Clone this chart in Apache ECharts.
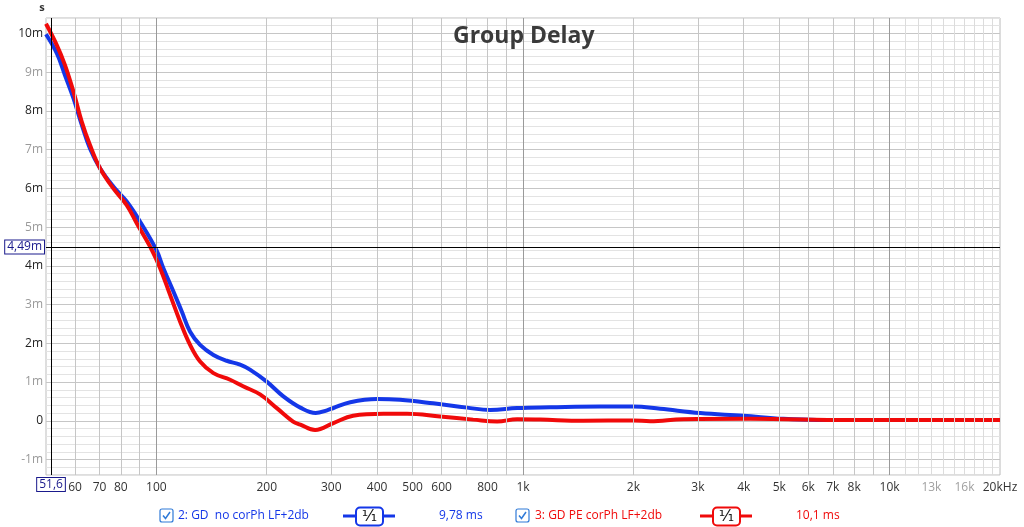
<!DOCTYPE html>
<html>
<head>
<meta charset="utf-8">
<title>Group Delay</title>
<script src="https://cdn.jsdelivr.net/npm/echarts@6/dist/echarts.min.js"></script>
<style>
html, body {margin: 0; padding: 0; background: #fff;}
#view {width: 1024px; height: 527px;}
</style>
</head>
<body>
<div id="view"></div>
<script>
// group delay, ms
var freqNoCor = [50, 53.5, 56.3, 59.4, 62.6, 65.9, 70.2, 76.3, 83, 90.3, 100, 104.5, 111.3, 117.3, 123.6, 131.6, 143.1, 155.6, 169.2, 180, 200, 222, 247, 272, 292, 304, 338, 400, 462, 569, 704, 814, 964, 1186, 1624, 2000, 2367, 3045, 3989, 5127, 6349, 10000, 20000];
var gdNoCor = [9.98, 9.49, 8.93, 8.33, 7.64, 7.03, 6.52, 6.05, 5.66, 5.14, 4.41, 3.94, 3.34, 2.82, 2.30, 1.96, 1.70, 1.55, 1.45, 1.32, 1.01, 0.63, 0.34, 0.20, 0.27, 0.33, 0.48, 0.56, 0.54, 0.45, 0.34, 0.28, 0.33, 0.35, 0.37, 0.37, 0.31, 0.20, 0.13, 0.05, 0.02, 0.02, 0.02];

var freqPeCor = [50, 53.5, 56.3, 59.4, 62.6, 65.9, 70.2, 76.3, 83, 88.4, 97.2, 102.4, 109, 116.1, 123.6, 131.6, 143.1, 158.9, 172.4, 191.8, 213.5, 236, 247, 271, 304, 344, 416, 483, 594, 731, 850, 964, 1114, 1459, 2000, 2223, 2736, 4168, 7810, 20000];
var gdPeCor = [10.25, 9.70, 9.19, 8.50, 7.72, 7.12, 6.52, 6.00, 5.57, 5.10, 4.41, 3.94, 3.25, 2.56, 1.96, 1.53, 1.23, 1.06, 0.89, 0.68, 0.32, -0.02, -0.10, -0.24, -0.06, 0.13, 0.18, 0.18, 0.11, 0.03, -0.02, 0.04, 0.03, 0.00, 0.01, -0.01, 0.04, 0.05, 0.02, 0.02];

var freqLabels = [60, 70, 80, 100, 200, 300, 400, 500, 600, 800, 1000, 2000, 3000, 4000, 5000, 6000, 7000, 8000, 10000, 13000, 16000, 20000];
var freqGrid = [60, 70, 80, 90, 100, 200, 300, 400, 500, 600, 700, 800, 900, 1000, 2000, 3000, 4000, 5000, 6000, 7000, 8000, 9000, 10000, 11000, 12000, 13000, 14000, 15000, 16000, 17000, 18000, 19000, 20000];

var cursorFreq = 51.6;
var cursorDelay = 4.49;

var BLUE = '#1437e8';
var RED = '#f00a0a';

function pairs(xs, ys) {
    return xs.map(function(x, i) { return [x, ys[i]]; });
}

function gridColor(f) {
    if (f === 100 || f === 1000 || f === 10000) return '#9a9a9a';
    if (f > 10000) return '#dcdcdc';
    return '#c6c6c6';
}

function freqText(v) {
    if (v >= 20000) return '20kHz';
    if (v >= 1000) return (v / 1000) + 'k';
    return '' + v;
}

function legendIcon(x, color) {
    return [
        {type: 'line', shape: {x1: x, y1: 516, x2: x + 52, y2: 516}, style: {stroke: color, lineWidth: 3}},
        {type: 'rect', shape: {x: x + 13, y: 507.5, width: 27, height: 18, r: 4}, style: {fill: '#fff', stroke: color, lineWidth: 2}},
        {type: 'text', x: x + 26.5, y: 517, style: {text: '¹⁄₁', fill: '#111', font: '16px "DejaVu Sans"', align: 'center', verticalAlign: 'middle'}}
    ];
}

function checkBox(x) {
    return [
        {type: 'rect', shape: {x: x, y: 509, width: 13, height: 13, r: 2}, style: {fill: '#fff', stroke: '#2f7ad8', lineWidth: 1.2}},
        {type: 'polyline', shape: {points: [[x + 3, 515.5], [x + 5.5, 518.5], [x + 10, 512]]}, style: {fill: null, stroke: '#2f7ad8', lineWidth: 1.5}}
    ];
}

var chart = echarts.init(document.getElementById('view'));

var labelFont = '"Open Sans", "Noto Sans", sans-serif';

var graphics = [].concat(
    checkBox(160),
    [{type: 'text', x: 178, y: 516, style: {text: '2: GD  no corPh LF+2db', fill: BLUE, font: '12px ' + labelFont, verticalAlign: 'middle'}}],
    legendIcon(343, BLUE),
    [{type: 'text', x: 439, y: 516, style: {text: '9,78 ms', fill: BLUE, font: '12px ' + labelFont, verticalAlign: 'middle'}}],
    checkBox(516),
    [{type: 'text', x: 535, y: 516, style: {text: '3: GD PE corPh LF+2db', fill: RED, font: '12px ' + labelFont, verticalAlign: 'middle'}}],
    legendIcon(700, RED),
    [{type: 'text', x: 796, y: 516, style: {text: '10,1 ms', fill: RED, font: '12px ' + labelFont, verticalAlign: 'middle'}}],
    [{type: 'text', x: 42, y: 8, style: {text: 's', fill: '#333', font: 'bold 11px ' + labelFont, align: 'center', verticalAlign: 'middle'}}]
);

var option = {
    animation: false,
    backgroundColor: '#fff',
    title: {
        text: 'Group Delay',
        left: 448, top: 20,
        textStyle: {fontSize: 23, fontWeight: 'bold', color: '#3a3a3a', fontFamily: labelFont}
    },
    grid: {left: 46, right: 24, top: 18, bottom: 52, show: true, borderColor: '#bdbdbd', borderWidth: 1, containLabel: false},
    xAxis: {
        type: 'log', logBase: 10, min: 50, max: 20000,
        axisLine: {show: false}, axisTick: {show: false}, splitLine: {show: false},
        axisLabel: {
            customValues: freqLabels,
            margin: 7,
            fontSize: 12, fontFamily: labelFont, color: '#333',
            formatter: function(v) {
                var t = freqText(v);
                return (v === 13000 || v === 16000) ? '{g|' + t + '}' : t;
            },
            rich: {g: {color: '#a0a0a0', fontSize: 12, fontFamily: labelFont}}
        }
    },
    yAxis: {
        type: 'value', min: -1.4, max: 10.4, interval: 0.2,
        axisLine: {show: false}, axisTick: {show: false},
        splitLine: {show: true, lineStyle: {width: 1, color: ['#e3e3e3', '#e3e3e3', '#c6c6c6', '#e3e3e3', '#e3e3e3']}},
        axisLabel: {
            margin: 3,
            fontSize: 12, fontFamily: labelFont,
            formatter: function(v) {
                var r = Math.round(v);
                if (Math.abs(v - r) > 1e-6) return '';
                var t = r === 0 ? '0' : r + 'm';
                return (r % 2 === 0 ? '{a|' : '{b|') + t + '}';
            },
            rich: {
                a: {color: '#1e1e1e', fontSize: 12, fontFamily: labelFont},
                b: {color: '#9a9a9a', fontSize: 12, fontFamily: labelFont}
            }
        }
    },
    graphic: graphics,
    series: [
        {
            // frequency grid and cursor
            type: 'line', data: [], silent: true, z: 1,
            markLine: {
                silent: true, symbol: 'none', animation: false,
                label: {show: false},
                emphasis: {disabled: true},
                data: freqGrid.map(function(f) {
                    return {xAxis: f, lineStyle: {color: gridColor(f), width: 1, type: 'solid'}};
                }).concat([
                    {xAxis: cursorFreq, lineStyle: {color: '#000', width: 1, type: 'solid'},
                     label: {show: true, position: 'start', distance: 3, formatter: '51,6', color: '#1a1a8c',
                             fontSize: 12, fontFamily: labelFont, backgroundColor: '#fff', borderColor: '#1a1a8c', borderWidth: 1, padding: [1, 2, 0, 2]}},
                    {yAxis: cursorDelay, lineStyle: {color: '#000', width: 1, type: 'solid'},
                     label: {show: true, position: 'start', distance: 2, formatter: '4,49m', color: '#1a1a8c',
                             fontSize: 12, fontFamily: labelFont, backgroundColor: '#fff', borderColor: '#1a1a8c', borderWidth: 1, padding: [1, 2, 0, 2]}}
                ])
            }
        },
        {
            name: 'GD  no corPh LF+2db', type: 'line', z: 3,
            data: pairs(freqNoCor, gdNoCor),
            smooth: 0.4, showSymbol: false, symbol: 'none',
            lineStyle: {color: BLUE, width: 4}
        },
        {
            name: 'GD PE corPh LF+2db', type: 'line', z: 4,
            data: pairs(freqPeCor, gdPeCor),
            smooth: 0.4, showSymbol: false, symbol: 'none',
            lineStyle: {color: RED, width: 4}
        }
    ]
};

chart.setOption(option);
</script>
</body>
</html>
